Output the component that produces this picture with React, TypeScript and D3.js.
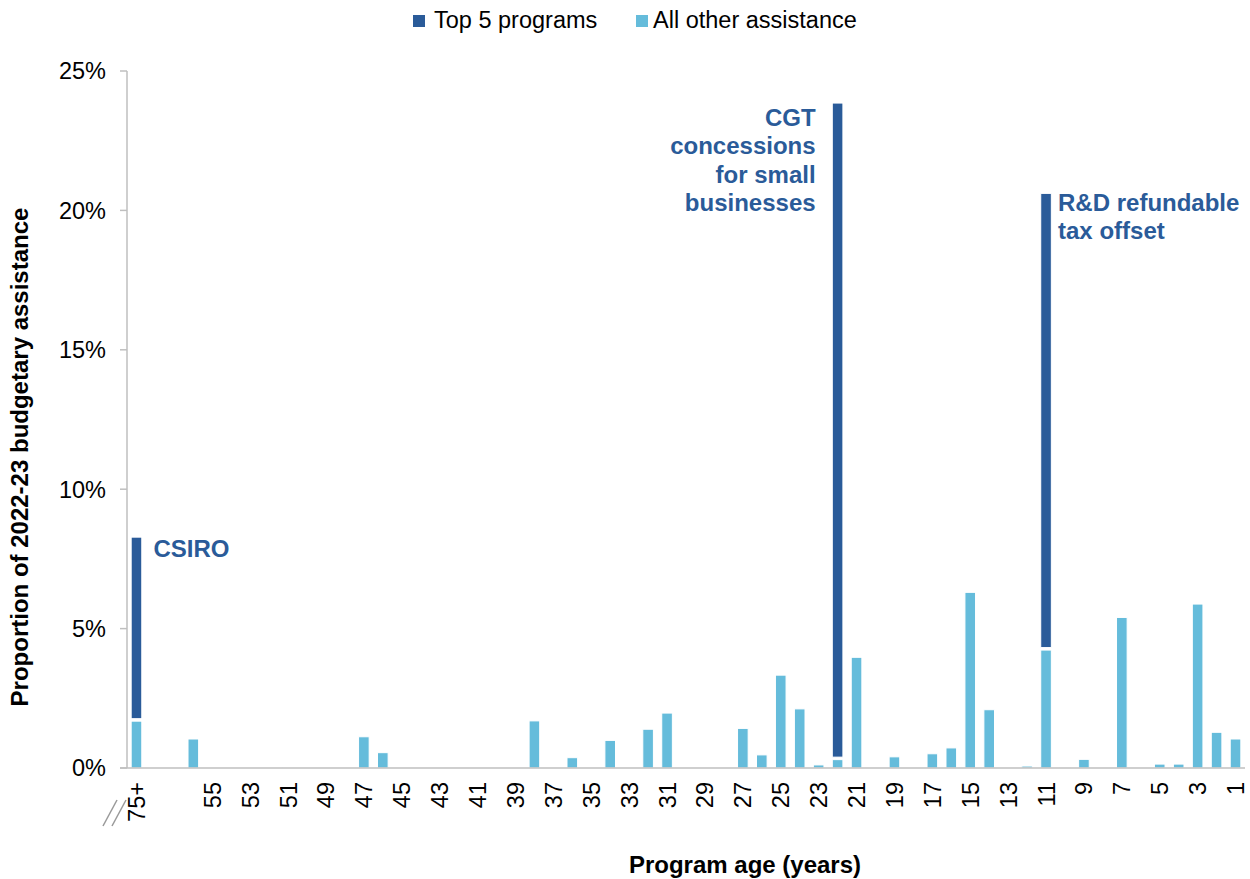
import React from "react";
import * as d3 from "d3";

// Program age categories (oldest on the left)
const categories: string[] = [
  "75+", "", "",
  ...Array.from({ length: 56 }, (_, i) => String(56 - i)),
];

// Share of 2022-23 budgetary assistance (%), "All other assistance"
const otherByAge: Record<string, number> = {
  "75+": 1.68, "56": 1.04, "51": 0.03, "47": 1.12, "46": 0.55,
  "38": 1.69, "36": 0.37, "34": 0.99, "32": 1.39, "31": 1.97,
  "27": 1.42, "26": 0.47, "25": 3.33, "24": 2.12, "23": 0.11,
  "22": 0.3, "21": 3.97, "19": 0.4, "17": 0.51, "16": 0.72,
  "15": 6.3, "14": 2.09, "12": 0.07, "11": 4.23, "10": 0.03,
  "9": 0.31, "7": 5.4, "5": 0.14, "4": 0.14, "3": 5.88,
  "2": 1.28, "1": 1.04,
};

// Share held by the top 5 programs (%)
const topByAge: Record<string, number> = {
  "75+": 6.6, "22": 23.55, "11": 16.38,
};

const yTicks = [0, 5, 10, 15, 20, 25];

const annotations = [
  { age: "75+", lines: ["CSIRO"], anchor: "start", dx: 17, y: 557 },
  { age: "22", lines: ["CGT", "concessions", "for small", "businesses"], anchor: "end", dx: -22, y: 126 },
  { age: "11", lines: ["R&D refundable", "tax offset"], anchor: "start", dx: 12, y: 211 },
];

const DARK = "#2A5B99";
const LIGHT = "#65BCDB";
const AXIS = "#BFBFBF";
const FONT = "'Liberation Sans', Arial, sans-serif";
const FS = 23.5;
const FSB = 24;

export default function App() {
  const width = 1250;
  const height = 879;
  const left = 127;
  const right = 1245;
  const top = 71;
  const bottom = 768;

  const x = d3.scaleBand<string>()
    .domain(categories.map((c, i) => `${i}`))
    .range([left, right])
    .paddingInner(0.44)
    .paddingOuter(0.22);
  const y = d3.scaleLinear().domain([0, 25]).range([bottom, top]);
  const bw = x.bandwidth();
  const cx = (i: number) => (x(`${i}`) ?? 0) + bw / 2;

  const showLabel = (c: string) => c === "75+" || (c !== "" && Number(c) % 2 === 1);

  return (
    <svg width={width} height={height} style={{ display: "block", position: "absolute", left: 0, top: 0 }} fontFamily={FONT}>
      {/* legend */}
      <rect x={413} y={15} width={12} height={12} fill={DARK} />
      <text x={434} y={27.5} fontSize={FS} fill="#000">Top 5 programs</text>
      <rect x={636} y={15} width={12} height={12} fill={LIGHT} />
      <text x={653} y={27.5} fontSize={FS} fill="#000">All other assistance</text>

      {/* y axis */}
      <line x1={left} x2={left} y1={top} y2={bottom} stroke={AXIS} strokeWidth={1.5} />
      {yTicks.map((t) => (
        <g key={t}>
          <line x1={left - 7} x2={left} y1={y(t)} y2={y(t)} stroke={AXIS} strokeWidth={1.5} />
          <text x={106} y={y(t)} dy="0.36em" textAnchor="end" fontSize={FS} fill="#000">{`${t}%`}</text>
        </g>
      ))}

      {/* bars */}
      {categories.map((c, i) => {
        const o = otherByAge[c] ?? 0;
        const t = topByAge[c] ?? 0;
        const x0 = x(`${i}`) ?? 0;
        return (
          <g key={i}>
            {o > 0 && (
              <rect x={x0} y={y(o)} width={bw} height={y(0) - y(o)} fill={LIGHT} stroke="#fff" strokeWidth={1} />
            )}
            {t > 0 && (
              <rect x={x0} y={y(o + t)} width={bw} height={y(o) - y(o + t) - 2.5} fill={DARK} stroke="#fff" strokeWidth={1} />
            )}
          </g>
        );
      })}

      {/* x axis */}
      <line x1={left - 7} x2={right} y1={bottom} y2={bottom} stroke={AXIS} strokeWidth={1.5} />
      {categories.map((c, i) =>
        showLabel(c) ? (
          <text
            key={`l${i}`}
            transform={`translate(${cx(i)},${bottom + 14}) rotate(-90)`}
            dy="0.36em"
            textAnchor="end"
            fontSize={FS}
            fill="#000"
          >
            {c}
          </text>
        ) : null
      )}

      {/* axis break marks */}
      <line x1={103} y1={826} x2={117} y2={800} stroke="#999" strokeWidth={1.5} />
      <line x1={112} y1={826} x2={126} y2={800} stroke="#999" strokeWidth={1.5} />

      {/* annotations */}
      {annotations.map((a) => {
        const i = categories.indexOf(a.age);
        const ax = cx(i) + a.dx;
        return (
          <text key={a.age} x={ax} y={a.y} textAnchor={a.anchor as any} fontSize={FSB} fontWeight="bold" fill={DARK}>
            {a.lines.map((l, k) => (
              <tspan key={k} x={ax} dy={k === 0 ? 0 : 28.3}>{l}</tspan>
            ))}
          </text>
        );
      })}

      {/* axis titles */}
      <text x={745} y={873} textAnchor="middle" fontSize={FSB} fontWeight="bold" fill="#000">Program age (years)</text>
      <text transform="translate(28,457) rotate(-90)" textAnchor="middle" fontSize={FSB} fontWeight="bold" fill="#000">
        Proportion of 2022-23 budgetary assistance
      </text>
    </svg>
  );
}
